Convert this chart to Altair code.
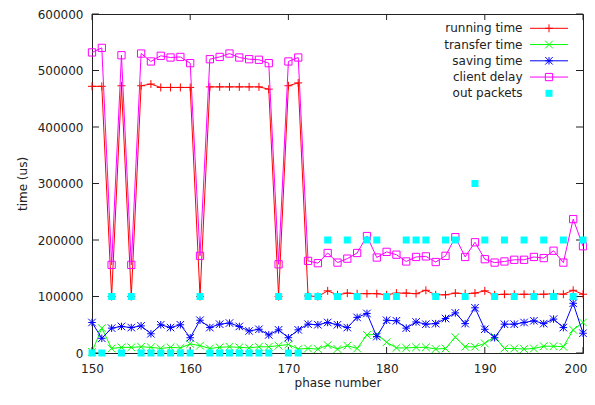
import altair as alt
import pandas as pd

phases = list(range(150, 201))

running_time = [472000, 472000, 100000, 473000, 100000, 473000, 476000, 470000, 470000, 470000,
                470000, 100000, 471000, 471000, 471000, 471000, 471000, 471000, 467000, 100000,
                473000, 478000, 101000, 100000, 110000, 103000, 106000, 105000, 105000, 105000,
                103000, 106000, 106000, 105000, 111000, 103000, 103000, 106000, 105000, 106000,
                110000, 103000, 104000, 104000, 104000, 104000, 104000, 105000, 104000, 111000,
                104000]
transfer_time = [2000, 44000, 8000, 10000, 10000, 11000, 10000, 8000, 10000, 9000,
                 16000, 13000, 8000, 10000, 11000, 10000, 9000, 11000, 11000, 13000,
                 15000, 7000, 8000, 7000, 14000, 7000, 13000, 8000, 32000, 33000,
                 19000, 9000, 9000, 10000, 10000, 7000, 8000, 28000, 11000, 11000,
                 17000, 29000, 8000, 8000, 7000, 8000, 12000, 12000, 11000, 41000,
                 54000]
saving_time = [54000, 26000, 44000, 47000, 45000, 48000, 34000, 50000, 45000, 50000,
               27000, 58000, 45000, 51000, 53000, 47000, 39000, 42000, 32000, 41000,
               27000, 41000, 51000, 50000, 54000, 50000, 45000, 63000, 70000, 29000,
               58000, 57000, 44000, 55000, 51000, 52000, 61000, 71000, 52000, 80000,
               42000, 27000, 51000, 51000, 54000, 57000, 52000, 60000, 45000, 88000,
               35000]
client_delay = [532000, 540000, 156000, 527000, 156000, 530000, 516000, 526000, 523000, 524000,
                513000, 172000, 520000, 524000, 530000, 523000, 520000, 519000, 513000, 157000,
                516000, 523000, 163000, 159000, 177000, 160000, 167000, 177000, 207000, 169000,
                179000, 174000, 162000, 170000, 171000, 161000, 172000, 205000, 170000, 196000,
                166000, 160000, 162000, 165000, 165000, 170000, 168000, 181000, 160000, 237000,
                189000]
out_packets = [0, 0, 100000, 0, 100000, 0, 0, 0, 0, 0,
               0, 100000, 0, 0, 0, 0, 0, 0, 0, 100000,
               0, 0, 100000, 100000, 200000, 100000, 200000, 100000, 200000, 200000,
               100000, 100000, 200000, 200000, 200000, 100000, 200000, 200000, 100000, 300000,
               200000, 100000, 200000, 100000, 200000, 100000, 200000, 100000, 200000, 100000,
               200000]

series_names = ["running time", "transfer time", "saving time", "client delay", "out packets"]
series_colors = ["#ff0000", "#00ff00", "#0000ff", "#ff00ff", "#00ffff"]
x_ticks = [150, 160, 170, 180, 190, 200]
y_ticks = [0, 100000, 200000, 300000, 400000, 500000, 600000]

PLUS = "M-1,0L1,0M0,-1L0,1"
CROSS = "M-1,-1L1,1M-1,1L1,-1"
STAR = "M-1,0L1,0M0,-1L0,1M-1,-1L1,1M-1,1L1,-1"
shapes = [PLUS, CROSS, STAR, "square", "square"]
sizes = [64, 49, 64, 42, 42]

W, H = 491, 339
FONT = "DejaVu Sans"
INK = "#222222"

values = [running_time, transfer_time, saving_time, client_delay, out_packets]
df = pd.DataFrame([
    {"phase": p, "value": v, "series": name}
    for name, vals in zip(series_names, values)
    for p, v in zip(phases, vals)
])

xs = alt.Scale(domain=[150, 200], nice=False, zero=False)
ys = alt.Scale(domain=[0, 600000], nice=False)
xaxis = alt.Axis(title="phase number", values=x_ticks, ticks=False, domain=False, grid=False,
                 labelPadding=10, titleY=29, titleBaseline="middle", labelFlush=False,
                 labelAlign=alt.ExprRef(expr="datum.value == 200 ? 'right' : 'center'"),
                 labelOffset=alt.ExprRef(expr="datum.value == 200 ? 4 : 0"))
yaxis = alt.Axis(title="time (us)", values=y_ticks, format="d", ticks=False, domain=False,
                 grid=False, labelPadding=9, titleX=-70, titleY=H / 2, titleAngle=-90,
                 titleAlign="center", titleBaseline="middle")

X = alt.X("phase:Q", scale=xs, axis=xaxis)
Y = alt.Y("value:Q", scale=ys, axis=yaxis)
color = alt.Color("series:N", scale=alt.Scale(domain=series_names, range=series_colors), legend=None)
shape = alt.Shape("series:N", scale=alt.Scale(domain=series_names, range=shapes), legend=None)
size = alt.Size("series:N", scale=alt.Scale(domain=series_names, range=sizes), legend=None)

layers = []
xt_df = pd.DataFrame({"t": x_ticks})
yt_df = pd.DataFrame({"t": y_ticks})
TX = alt.X("t:Q", scale=xs, axis=xaxis)
TY = alt.Y("t:Q", scale=ys, axis=yaxis)
layers.append(alt.Chart(xt_df).mark_rule(color=INK, strokeWidth=1).encode(x=TX, y=alt.value(H), y2=alt.value(H - 6)))
layers.append(alt.Chart(xt_df).mark_rule(color=INK, strokeWidth=1).encode(x=TX, y=alt.value(0), y2=alt.value(6)))
layers.append(alt.Chart(yt_df).mark_rule(color=INK, strokeWidth=1).encode(y=TY, x=alt.value(0), x2=alt.value(7)))
layers.append(alt.Chart(yt_df).mark_rule(color=INK, strokeWidth=1).encode(y=TY, x=alt.value(W), x2=alt.value(W - 7)))

for name in series_names[:4]:
    base = alt.Chart(df).transform_filter(alt.datum.series == name)
    layers.append(base.mark_line(strokeWidth=1).encode(x=X, y=Y, color=color))
    layers.append(base.mark_point(filled=False, strokeWidth=1, opacity=1).encode(
        x=X, y=Y, color=color, shape=shape, size=size))

pk = alt.Chart(df).transform_filter(alt.datum.series == "out packets")
layers.append(pk.mark_point(filled=True, shape="square", opacity=1).encode(x=X, y=Y, color=color, size=size))

main = alt.layer(*layers)

leg_df = pd.DataFrame({"series": series_names, "idx": list(range(5))})
LY = alt.Y("idx:Q", scale=alt.Scale(domain=[0, 4], range=[14.3, 79.3]), axis=None)
leg_text = alt.Chart(leg_df).mark_text(align="right", baseline="middle", fontSize=12, font=FONT,
                                       color=INK).encode(x=alt.value(430.5), y=LY, text="series:N")
leg_line = alt.Chart(leg_df).transform_filter(alt.datum.idx < 4).mark_rule(strokeWidth=1).encode(
    x=alt.value(438), x2=alt.value(476), y=LY, color=color)
leg_pts = alt.Chart(leg_df).transform_filter(alt.datum.idx < 4).mark_point(
    filled=False, strokeWidth=1, opacity=1).encode(x=alt.value(457), y=LY, color=color, shape=shape, size=size)
leg_pk = alt.Chart(leg_df).transform_filter(alt.datum.idx == 4).mark_point(
    filled=True, shape="square", opacity=1).encode(x=alt.value(457), y=LY, color=color, size=size)
legend = alt.layer(leg_text, leg_line, leg_pts, leg_pk)

chart = alt.layer(main, legend).resolve_scale(y="independent").properties(
    width=W, height=H,
    autosize=alt.AutoSizeParams(type="none"),
    padding={"left": 84, "top": 6, "right": 4, "bottom": 38},
).configure(font=FONT).configure_view(stroke=INK, strokeWidth=1).configure_axis(
    labelFontSize=12, titleFontSize=12, titleFontWeight="normal",
    labelColor=INK, titleColor=INK, labelFont=FONT, titleFont=FONT)

chart.save("out.html", embed_options={"renderer": "svg", "actions": False})
